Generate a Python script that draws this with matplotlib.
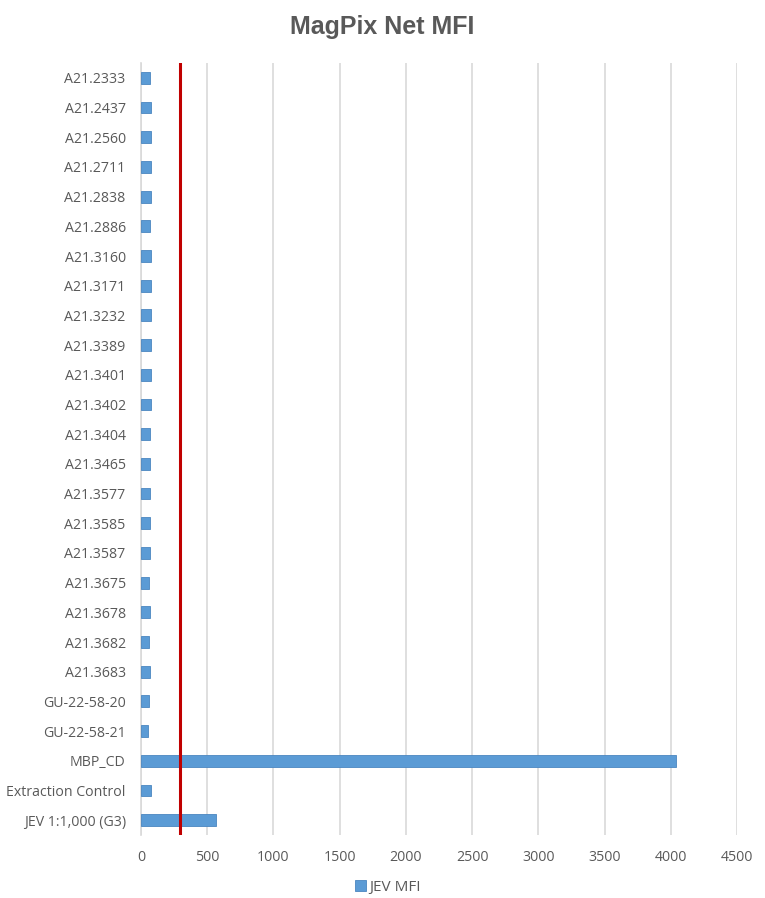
import matplotlib
matplotlib.use("Agg")
import matplotlib.pyplot as plt
from matplotlib.patches import Patch

categories = ["A21.2333", "A21.2437", "A21.2560", "A21.2711", "A21.2838", "A21.2886",
              "A21.3160", "A21.3171", "A21.3232", "A21.3389", "A21.3401", "A21.3402",
              "A21.3404", "A21.3465", "A21.3577", "A21.3585", "A21.3587", "A21.3675",
              "A21.3678", "A21.3682", "A21.3683", "GU-22-58-20", "GU-22-58-21",
              "MBP_CD", "Extraction Control", "JEV 1:1,000 (G3)"]
jev_mfi = [66, 73, 73, 73, 73, 66, 78, 73, 78, 78, 73, 73, 66, 66, 66, 66, 66, 62,
           66, 58, 66, 58, 53, 4036, 78, 564]
threshold = 292
x_ticks = [0, 500, 1000, 1500, 2000, 2500, 3000, 3500, 4000, 4500]

text_color = "#595959"
plt.rcParams['font.family'] = ['Open Sans', 'DejaVu Sans']

fig = plt.figure(figsize=(7.65, 8.98), dpi=100)
ax = fig.add_axes([141/765, 63/898, 596/765, 772/898])

n = len(categories)
ypos = list(range(n))
ax.barh(ypos, jev_mfi, height=0.4, color="#5B9BD5", edgecolor="#4A86C0", linewidth=0.6, zorder=3)
ax.axvline(threshold, color="#C00000", linewidth=2.2, zorder=4)

ax.set_xlim(0, 4500)
ax.set_ylim(n - 0.5, -0.5)
ax.set_yticks(ypos)
ax.set_yticklabels(categories)
ax.set_xticks(x_ticks)
ax.set_xticklabels([str(t) for t in x_ticks])

ax.grid(axis='x', color="#D9D9D9", linewidth=1.2, zorder=0)
ax.set_axisbelow(True)
for s in ['top', 'right', 'bottom']:
    ax.spines[s].set_visible(False)
ax.spines['left'].set_color("#D9D9D9")
ax.spines['left'].set_linewidth(1.2)
ax.tick_params(axis='both', length=0, labelsize=10.2, labelcolor=text_color)
ax.tick_params(axis='y', pad=11)
ax.tick_params(axis='x', pad=11)

fig.text(0.5, 1 - 27/898, "MagPix Net MFI", ha='center', va='center', fontsize=18,
         fontweight='bold', color=text_color, family=['Liberation Sans', 'DejaVu Sans'])

handle = Patch(facecolor="#5B9BD5", edgecolor="#4A86C0", linewidth=0.6)
fig.legend([handle], ["JEV MFI"], loc='center', bbox_to_anchor=(388/765, 1 - 887/898),
           frameon=False, fontsize=11, labelcolor=text_color, handlelength=0.7,
           handleheight=0.7, handletextpad=0.25)

fig.savefig("out.png", dpi=100, facecolor="white")
